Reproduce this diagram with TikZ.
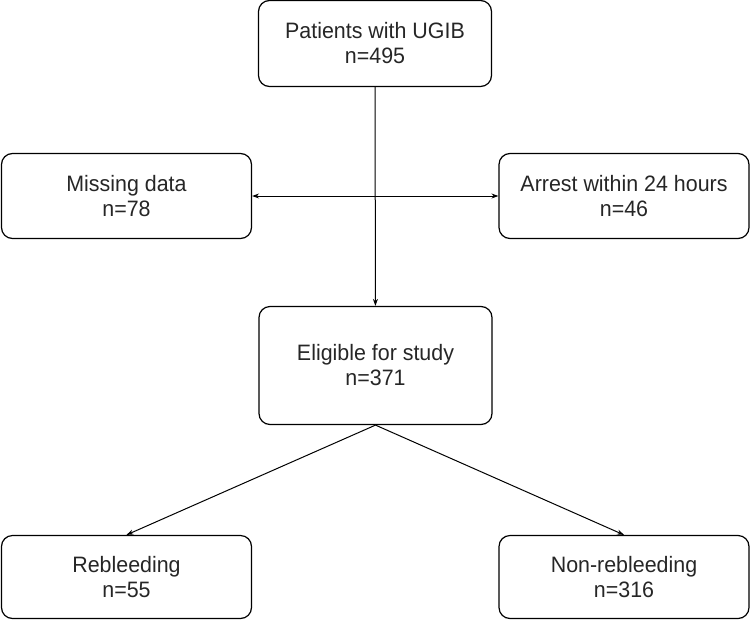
\documentclass[tikz,border=0pt]{standalone}
\usepackage{fontspec}
\setmainfont[FakeStretch=0.96]{Liberation Sans}
\usetikzlibrary{arrows.meta}
\begin{document}
\begin{tikzpicture}[x=1pt,y=-1pt,
	box/.style={draw,line width=1.2pt,rounded corners=11pt,align=center,inner sep=0pt,
		font=\fontsize{22.3}{25}\selectfont,text=black!85},
	arr/.style={line width=1pt,-{Stealth[length=7pt,width=5pt]}}]
	\useasboundingbox (0,0) rectangle (751,621);
	\node[box,minimum width=233pt,minimum height=86pt] (patients) at (375,43.5) {Patients with UGIB\\n=495};
	\node[box,minimum width=250pt,minimum height=85pt] (missing) at (126.5,196) {Missing data\\n=78};
	\node[box,minimum width=250pt,minimum height=85pt] (arrest) at (624,196) {Arrest within 24 hours\\n=46};
	\node[box,minimum width=233pt,minimum height=118pt] (eligible) at (375.5,365.5) {Eligible for study\\n=371};
	\node[box,minimum width=250pt,minimum height=83pt] (rebleed) at (126.5,577) {Rebleeding\\n=55};
	\node[box,minimum width=250pt,minimum height=83pt] (nonrebleed) at (624,577) {Non-rebleeding\\n=316};
	\coordinate (split) at (patients.south |- missing.east);
	\draw[arr] (patients) -- (eligible);
	\draw[arr] (split) -- (missing);
	\draw[arr] (split) -- (arrest);
	\draw[arr] (eligible.south) -- (rebleed.north);
	\draw[arr] (eligible.south) -- (nonrebleed.north);
\end{tikzpicture}
\end{document}
